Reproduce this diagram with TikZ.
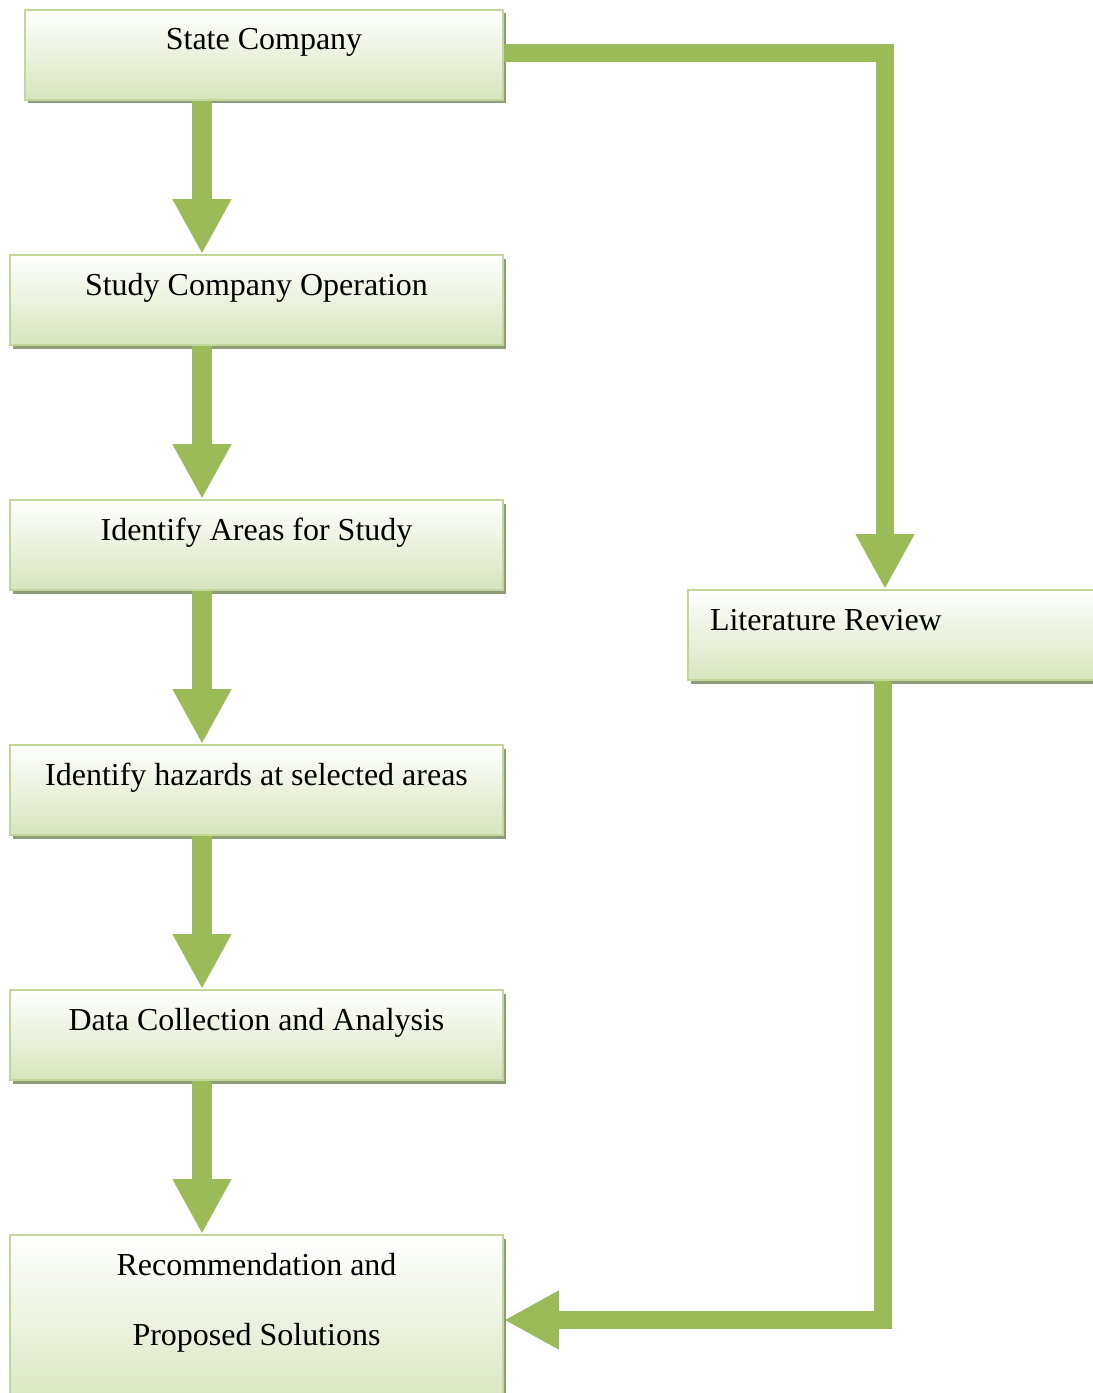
\documentclass[tikz,border=0pt]{standalone}
\usepackage{fontspec}
\setmainfont{Liberation Serif}
\usetikzlibrary{arrows.meta,shadows}
\definecolor{arrowgreen}{HTML}{9BBB59}
\definecolor{edgegreen}{HTML}{C3D69B}
\definecolor{fillgreen}{HTML}{D7E4BD}
\definecolor{shadowgrey}{HTML}{8E9C78}
\tikzset{
  stepbox/.style={rectangle, draw=edgegreen, line width=1.1pt,
    top color=white, bottom color=fillgreen, inner sep=0pt,
    minimum width=9.86cm, text height=0.8cm, text depth=1.0cm,
    font=\fontsize{18.2}{22}\selectfont,
    general shadow={fill=shadowgrey, shadow xshift=0.05cm, shadow yshift=-0.07cm}},
  flowarrow/.style={draw=arrowgreen, line width=0.4cm,
    -{Triangle[width=1.1cm,length=1.1cm,fill=arrowgreen]}},
  sidearrow/.style={flowarrow, line width=0.36cm}
}
\begin{document}
\begin{tikzpicture}
  \useasboundingbox (0,0) rectangle (21.84,-27.86);
  \node[stepbox, minimum width=9.56cm] (state) at (5.28,-1.1) {State Company};
  \node[stepbox] (study) at (5.13,-6.0) {Study Company Operation};
  \node[stepbox] (areas) at (5.13,-10.9) {Identify Areas for Study};
  \node[stepbox] (hazards) at (5.13,-15.8) {Identify hazards at selected areas};
  \node[stepbox] (data) at (5.13,-20.7) {Data Collection and Analysis};
  \node[stepbox, text height=2.2cm, text depth=1.4cm, align=center,
    font=\fontsize{18.2}{39.8}\selectfont] (recomm) at (5.13,-26.5)
    {Recommendation and\\Proposed Solutions};
  \node[stepbox] (lit) at (18.69,-12.7)
    {\makebox[9.86cm][l]{\hspace{0.44cm}Literature Review}};

  \coordinate (spine) at (4.04,0);
  \coordinate (turnA) at (17.7,-1.06);
  \coordinate (turnB) at (17.66,-26.4);
  \draw[flowarrow] (state.south -| spine) -- (study.north -| spine);
  \draw[flowarrow] (study.south -| spine) -- (areas.north -| spine);
  \draw[flowarrow] (areas.south -| spine) -- (hazards.north -| spine);
  \draw[flowarrow] (hazards.south -| spine) -- (data.north -| spine);
  \draw[flowarrow] (data.south -| spine) -- (recomm.north -| spine);
  \draw[sidearrow] (state.east |- turnA) -- (turnA) -- (turnA |- lit.north);
  \draw[sidearrow] (lit.south -| turnB) -- (turnB) -- (turnB -| recomm.east);
\end{tikzpicture}
\end{document}
